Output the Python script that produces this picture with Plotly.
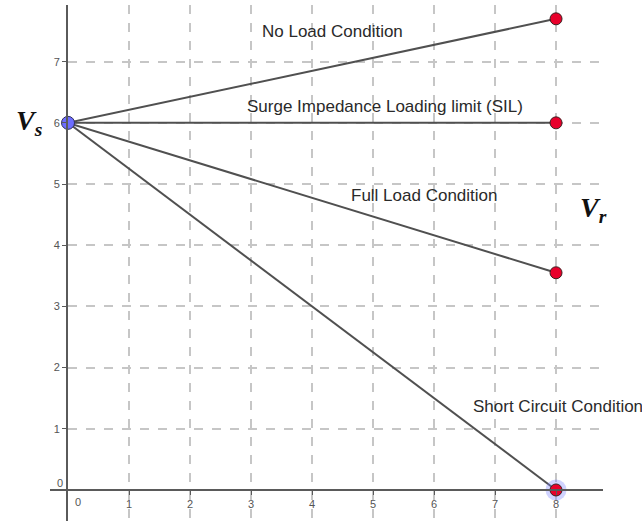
import plotly.graph_objects as go

# Sending-end voltage and receiving-end voltages for each loading condition
x_send = 0
x_recv = 8
v_send = 6
conditions = ["No Load Condition", "Surge Impedance Loading limit (SIL)",
              "Full Load Condition", "Short Circuit Condition"]
v_recv = [7.7, 6.0, 3.55, 0.0]

# Label anchor points (data coords) for each condition
label_x = [4.33, 5.2, 5.84, 8.03]
label_y = [7.49, 6.27, 4.82, 1.36]

x_ticks = [1, 2, 3, 4, 5, 6, 7, 8]
y_ticks = [1, 2, 3, 4, 5, 6, 7]

W, H = 642, 521
ML, MR, MT, MB = 68, 39, 5, 0
x_range = [0, 8.77]
y_range = [-0.507, 7.926]

line_col = "#505050"
axis_col = "#5a5a5a"
grid_col = "#c6c6c6"
tick_font = dict(family="Liberation Sans, Arial, sans-serif", size=11, color="#555555")
text_font = dict(family="Liberation Sans, Arial, sans-serif", size=17, color="#2a2a2a")

fig = go.Figure()

for v in v_recv:
    fig.add_trace(go.Scatter(
        x=[x_send, x_recv], y=[v_send, v],
        mode="lines", line=dict(color=line_col, width=2),
        hoverinfo="skip", showlegend=False, cliponaxis=False,
    ))

# highlight halo around the short-circuit end point
fig.add_trace(go.Scatter(
    x=[x_recv], y=[v_recv[-1]], mode="markers",
    marker=dict(size=21, color="rgba(120,130,255,0.35)", line=dict(width=0)),
    hoverinfo="skip", showlegend=False, cliponaxis=False,
))

fig.add_trace(go.Scatter(
    x=[x_recv] * len(v_recv), y=v_recv, mode="markers",
    marker=dict(size=12, color="#e8002b", line=dict(color="#3a2020", width=1)),
    hoverinfo="skip", showlegend=False, cliponaxis=False,
))

fig.add_trace(go.Scatter(
    x=[x_send], y=[v_send], mode="markers",
    marker=dict(size=13, color="#6d6dff", line=dict(color="#30305a", width=1)),
    hoverinfo="skip", showlegend=False, cliponaxis=False,
))

annotations = []
for name, lx, ly in zip(conditions, label_x, label_y):
    annotations.append(dict(x=lx, y=ly, xref="x", yref="y", text=name,
                            showarrow=False, font=text_font))

math_font = dict(family="Liberation Serif, DejaVu Serif, serif", size=28, color="#111111")
annotations.append(dict(x=(14 - ML) / (W - ML - MR), y=v_send, xref="paper", yref="y",
                        text="<b><i>V<sub>s</sub></i></b>", showarrow=False, font=math_font))
annotations.append(dict(x=8.62, y=4.58, xref="x", yref="y",
                        text="<b><i>V<sub>r</sub></i></b>", showarrow=False, font=math_font))

# origin labels sit off-axis
annotations.append(dict(x=0.17, y=-0.2, xref="x", yref="y", text="0",
                        showarrow=False, font=tick_font))
annotations.append(dict(x=(55 - ML) / (W - ML - MR), y=0.11, xref="paper", yref="y", text="0",
                        showarrow=False, font=tick_font))

x_axis_pos = -y_range[0] / (y_range[1] - y_range[0])

fig.update_layout(
    width=W, height=H,
    margin=dict(l=ML, r=MR, t=MT, b=MB),
    paper_bgcolor="white", plot_bgcolor="white",
    annotations=annotations,
    shapes=[dict(type="line", xref="paper", yref="y",
                 x0=-18 / (W - ML - MR), x1=0, y0=0, y1=0,
                 line=dict(color=axis_col, width=2))],
    xaxis=dict(range=x_range, tickvals=x_ticks, ticktext=[str(t) for t in x_ticks],
               anchor="free", position=x_axis_pos,
               showline=True, linecolor=axis_col, linewidth=2,
               ticks="outside", ticklen=4, tickcolor=axis_col, tickwidth=1,
               tickfont=tick_font, showgrid=True, gridcolor=grid_col, gridwidth=1.5,
               griddash="dash", zeroline=False, fixedrange=True),
    yaxis=dict(range=y_range, tickvals=y_ticks, ticktext=[str(t) for t in y_ticks],
               showline=True, linecolor=axis_col, linewidth=2,
               ticks="outside", ticklen=4, tickcolor=axis_col, tickwidth=1,
               tickfont=tick_font, showgrid=True, gridcolor=grid_col, gridwidth=1.5,
               griddash="dash", zeroline=False, fixedrange=True),
)

fig.write_html("out.html")
